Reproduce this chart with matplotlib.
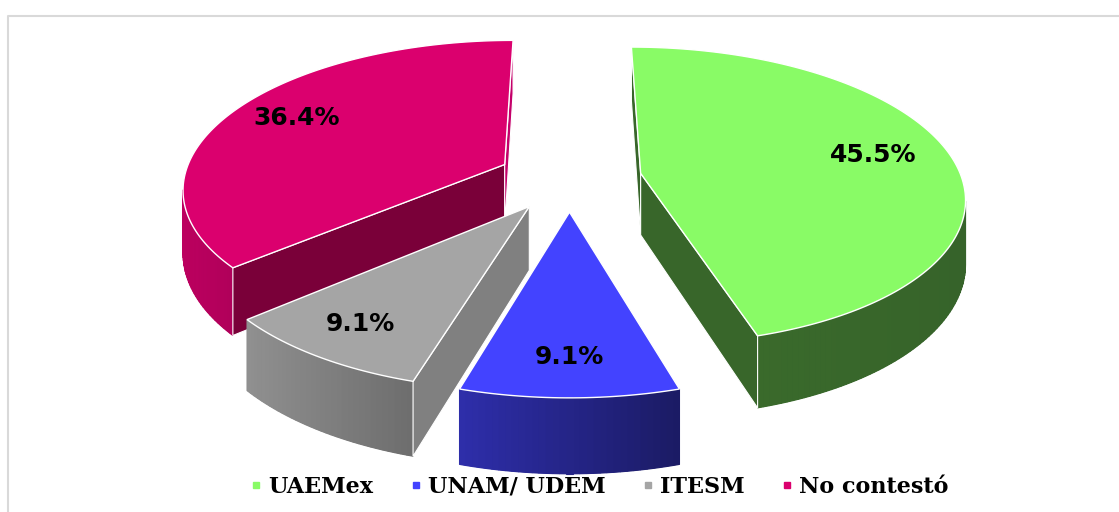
import numpy as np
import matplotlib.pyplot as plt
from matplotlib.patches import Polygon
from matplotlib.lines import Line2D
from matplotlib.colors import to_rgb

categories = ["UAEMex", "UNAM/ UDEM", "ITESM", "No contestó"]
values = [45.5, 9.1, 9.1, 36.4]
value_labels = ["45.5%", "9.1%", "9.1%", "36.4%"]

top_colors = ["#89FB66", "#4343FF", "#A5A5A5", "#DB006E"]
start_wall_colors = ["#38662A", "#2C2CA6", "#808080", "#7A0039"]
end_wall_colors = ["#38662A", "#2C2CA6", "#808080", "#C4006A"]
outer_left_colors = ["#3A6A2B", "#2E2EAA", "#909090", "#BC005F"]
outer_right_colors = ["#36632A", "#1B1B64", "#6D6D6D", "#B0005A"]

# view of the 3-D pie, in pixels
CX, CY = 569.5, 178.0
RX, RY = 321.0, 146.5
PERSP = 0.15
DEPTH = 62.0
EXPLODE = 0.225


def project(X, Y, Z):
    s = 1.0 / (1.0 + PERSP * Y)
    return CX + RX * X * s, CY + (-RY * Y + DEPTH * (1 - Z)) * s


def signed_area(pts):
    x, y = pts[:, 0], -pts[:, 1]
    return 0.5 * np.sum(x * np.roll(y, -1) - np.roll(x, -1) * y)


def mix(c1, c2, t):
    a, b = np.array(to_rgb(c1)), np.array(to_rgb(c2))
    return tuple(a + (b - a) * t)


fig = plt.figure(figsize=(11.19, 5.12), dpi=100)
ax = fig.add_axes([0, 0, 1, 1])
ax.set_xlim(0, 1119)
ax.set_ylim(512, 0)
ax.axis('off')

# chart frame
ax.plot([8, 8, 1119], [512, 16, 16], color='#D9D9D9', lw=1.5)

total = sum(values)
bounds = np.concatenate([[0], np.cumsum(values)]) / total * 360.0
slices = []
for i in range(len(values)):
    ts, te = bounds[i], bounds[i + 1]
    phi = np.radians((ts + te) / 2)
    ox, oy = EXPLODE * np.sin(phi), EXPLODE * np.cos(phi)
    slices.append((oy, i, ts, te, phi, ox))


def P(X, Y, Z):
    return np.array(project(X, Y, Z))


# back slices first
for oy, i, ts, te, phi, ox in sorted(slices, reverse=True):
    th = np.radians(np.linspace(ts, te, max(int(te - ts) + 2, 3)))
    ax_, ay_ = ox + np.sin(th), oy + np.cos(th)
    apex_t, apex_b = P(ox, oy, 1), P(ox, oy, 0)

    # outer curved wall (only the part facing us), shaded left to right
    quads = []
    for j in range(len(th) - 1):
        q = np.array([P(ax_[j], ay_[j], 1), P(ax_[j + 1], ay_[j + 1], 1),
                      P(ax_[j + 1], ay_[j + 1], 0), P(ax_[j], ay_[j], 0)])
        if signed_area(q) > 0:
            quads.append(q)
    if quads:
        outline = np.array([q[0] for q in quads] + [quads[-1][1], quads[-1][2]]
                           + [q[3] for q in quads[::-1]])
        mid = mix(outer_left_colors[i], outer_right_colors[i], 0.5)
        ax.add_patch(Polygon(outline, closed=True, facecolor=mid, edgecolor='none'))
        xs = np.concatenate([q[:, 0] for q in quads])
        x0, x1 = xs.min(), xs.max()
        for q in quads:
            t = (q[:, 0].mean() - x0) / max(x1 - x0, 1)
            c = mix(outer_left_colors[i], outer_right_colors[i], t)
            ax.add_patch(Polygon(q, closed=True, facecolor=c, edgecolor=c, lw=0.8))

    # radial walls
    o_s_t, o_s_b = P(ax_[0], ay_[0], 1), P(ax_[0], ay_[0], 0)
    o_e_t, o_e_b = P(ax_[-1], ay_[-1], 1), P(ax_[-1], ay_[-1], 0)
    w_start = np.array([apex_t, o_s_t, o_s_b, apex_b])
    w_end = np.array([apex_t, apex_b, o_e_b, o_e_t])
    if signed_area(w_start) > 0:
        ax.add_patch(Polygon(w_start, closed=True, facecolor=start_wall_colors[i],
                             edgecolor='white', lw=0.8))
    if signed_area(w_end) > 0:
        ax.add_patch(Polygon(w_end, closed=True, facecolor=end_wall_colors[i],
                             edgecolor='white', lw=0.8))

    # top face
    top = np.array([apex_t] + [P(a, b, 1) for a, b in zip(ax_, ay_)])
    ax.add_patch(Polygon(top, closed=True, facecolor=top_colors[i],
                         edgecolor='white', lw=1.0))

    # data label, further out for thin slices
    r = 0.84 - 0.2 * values[i] / total
    lx, ly = project(ox + r * np.sin(phi), oy + r * np.cos(phi), 1)
    ax.text(lx, ly - 3, value_labels[i], ha='center', va='center', fontsize=18,
            fontweight='bold', family='DejaVu Sans', color='black')

handles = [Line2D([], [], marker='s', linestyle='none', markersize=5,
                  markerfacecolor=c, markeredgecolor=c) for c in top_colors]
fig.legend(handles, categories, loc='center', bbox_to_anchor=(0.536, 0.049),
           ncol=4, frameon=False, handlelength=0.5, handletextpad=0.3,
           columnspacing=1.65,
           prop={'family': 'DejaVu Serif', 'weight': 'bold', 'size': 16})

fig.savefig('out.png', dpi=100)
